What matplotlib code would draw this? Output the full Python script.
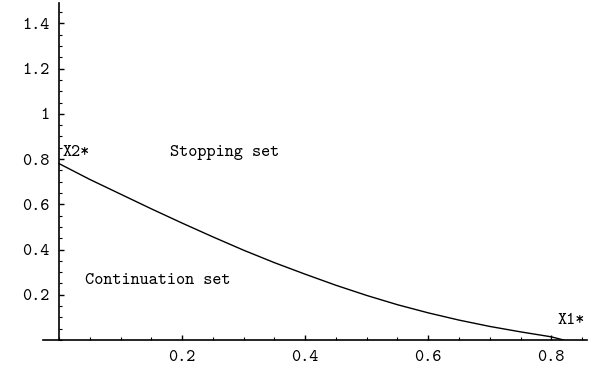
import numpy as np
import matplotlib
matplotlib.use("Agg")
import matplotlib.pyplot as plt
from matplotlib.ticker import MultipleLocator, FixedLocator

# boundary between stopping and continuation sets
x_vals = [0.0, 0.05, 0.1, 0.15, 0.2, 0.25, 0.3, 0.35, 0.4, 0.45,
          0.5, 0.55, 0.6, 0.65, 0.7, 0.75, 0.8, 0.82]
y_vals = [0.78, 0.71, 0.645, 0.58, 0.517, 0.456, 0.397, 0.342, 0.291, 0.242,
          0.197, 0.156, 0.12, 0.088, 0.06, 0.036, 0.014, 0.0]

x_ticks = [0.2, 0.4, 0.6, 0.8]
x_tick_labels = ["0.2", "0.4", "0.6", "0.8"]
y_ticks = [0.2, 0.4, 0.6, 0.8, 1.0, 1.2, 1.4]
y_tick_labels = ["0.2", "0.4", "0.6", "0.8", "1", "1.2", "1.4"]

font = "cmtt10"
fs = 12.5

fig = plt.figure(figsize=(5.93, 3.71), dpi=100)
ax = fig.add_axes([43 / 593, 31 / 371, 544 / 593, 337 / 371])

ax.plot(x_vals, y_vals, color="black", lw=1.0)

ax.set_xlim(-0.026, 0.858)
ax.set_ylim(0, 1.49)

ax.spines["top"].set_visible(False)
ax.spines["right"].set_visible(False)
ax.spines["left"].set_position(("data", 0))
ax.spines["left"].set_linewidth(1.2)
ax.spines["bottom"].set_linewidth(1.2)

ax.xaxis.set_major_locator(FixedLocator(x_ticks))
ax.set_xticklabels(x_tick_labels, fontfamily=font, fontsize=fs)
ax.xaxis.set_minor_locator(MultipleLocator(0.05))
ax.yaxis.set_major_locator(FixedLocator(y_ticks))
ax.set_yticklabels(y_tick_labels, fontfamily=font, fontsize=fs)
ax.yaxis.set_minor_locator(MultipleLocator(0.05))

ax.tick_params(which="major", direction="in", length=3.5, width=1.0, pad=7)
ax.tick_params(which="minor", direction="in", length=2, width=0.8)

ax.text(0.005, 0.813, "X2*", fontfamily=font, fontsize=fs, va="baseline", ha="left")
ax.text(0.18, 0.813, "Stopping set", fontfamily=font, fontsize=fs, va="baseline", ha="left")
ax.text(0.042, 0.249, "Continuation set", fontfamily=font, fontsize=fs, va="baseline", ha="left")
ax.text(0.81, 0.071, "X1*", fontfamily=font, fontsize=fs, va="baseline", ha="left")

fig.savefig("out.png", dpi=100)
